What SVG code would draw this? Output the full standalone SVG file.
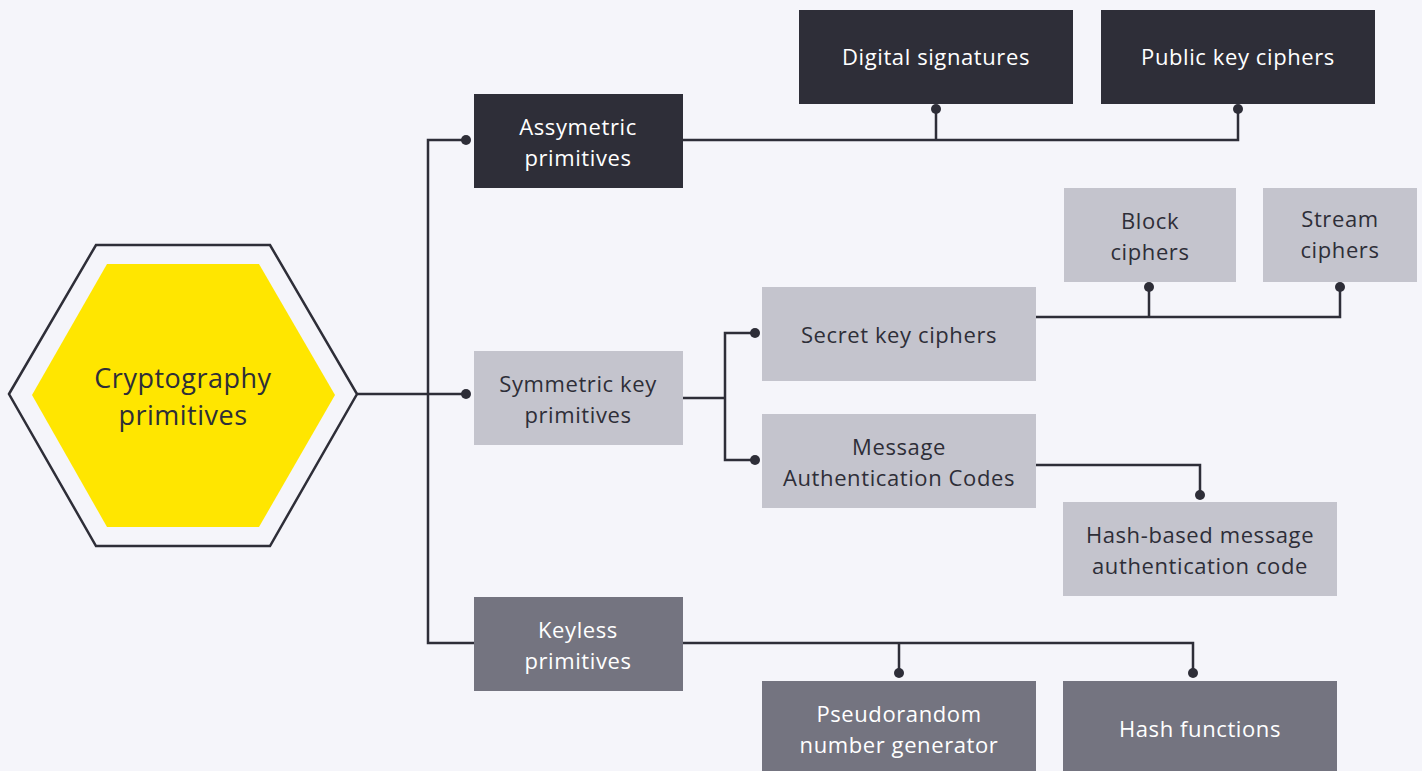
<svg xmlns="http://www.w3.org/2000/svg" width="1422" height="771" viewBox="0 0 1422 771">
<style>
.dark{fill:#2e2e38}
.light{fill:#c4c4cd}
.mid{fill:#747480}
.t{font-family:"Open Sans","Liberation Sans",sans-serif;font-size:22px;letter-spacing:0.6px;text-anchor:middle}
.big{font-size:27px;letter-spacing:0.5px}
.tw{fill:#ffffff}
.td{fill:#2e2e38}
.c{fill:none;stroke:#2e2e38;stroke-width:2.5}
.dot{fill:#2e2e38}
</style>
<rect width="1422" height="771" fill="#f5f5fa"/>
<g id="connectors">
<path class="c" d="M357 394 H466"/>
<path class="c" d="M466 140 H428 V643 H474"/>
<path class="c" d="M683 140 H1238 V109 M936 140 V109"/>
<path class="c" d="M683 398 H725 M755 333 H725 V460 H755"/>
<path class="c" d="M1036 317 H1340 V287 M1149 317 V287"/>
<path class="c" d="M1036 465 H1200 V495"/>
<path class="c" d="M683 643 H1193 V673 M899 643 V673"/>
<circle class="dot" cx="466" cy="140" r="5"/>
<circle class="dot" cx="466" cy="394" r="5"/>
<circle class="dot" cx="936" cy="109" r="5"/>
<circle class="dot" cx="1238" cy="109" r="5"/>
<circle class="dot" cx="755" cy="333" r="5"/>
<circle class="dot" cx="755" cy="460" r="5"/>
<circle class="dot" cx="1149" cy="287" r="5"/>
<circle class="dot" cx="1340" cy="287" r="5"/>
<circle class="dot" cx="1200" cy="495" r="5"/>
<circle class="dot" cx="899" cy="673" r="5"/>
<circle class="dot" cx="1193" cy="673" r="5"/>
</g>
<g id="root">
<polygon points="9,394 96,245 270,245 357,394 270,546 96,546" fill="none" stroke="#2e2e38" stroke-width="2.5"/>
<polygon points="32,395 107,264 259,264 335,395 259,527 107,527" fill="#ffe600"/>
<text class="t td big" x="183" y="388">Cryptography</text>
<text class="t td big" x="183" y="425">primitives</text>
</g>
<g id="asym">
<rect class="dark" x="474" y="94" width="209" height="94"/>
<text class="t tw" x="578" y="135">Assymetric</text>
<text class="t tw" x="578" y="166">primitives</text>
</g>
<g id="sym">
<rect class="light" x="474" y="351" width="209" height="94"/>
<text class="t td" x="578" y="392">Symmetric key</text>
<text class="t td" x="578" y="423">primitives</text>
</g>
<g id="keyless">
<rect class="mid" x="474" y="597" width="209" height="94"/>
<text class="t tw" x="578" y="638">Keyless</text>
<text class="t tw" x="578" y="669">primitives</text>
</g>
<g id="digsig">
<rect class="dark" x="799" y="10" width="274" height="94"/>
<text class="t tw" x="936" y="65">Digital signatures</text>
</g>
<g id="pubkey">
<rect class="dark" x="1101" y="10" width="274" height="94"/>
<text class="t tw" x="1238" y="65">Public key ciphers</text>
</g>
<g id="block">
<rect class="light" x="1064" y="188" width="172" height="94"/>
<text class="t td" x="1150" y="229">Block</text>
<text class="t td" x="1150" y="260">ciphers</text>
</g>
<g id="stream">
<rect class="light" x="1263" y="188" width="154" height="94"/>
<text class="t td" x="1340" y="227">Stream</text>
<text class="t td" x="1340" y="258">ciphers</text>
</g>
<g id="secret">
<rect class="light" x="762" y="287" width="274" height="94"/>
<text class="t td" x="899" y="343">Secret key ciphers</text>
</g>
<g id="mac">
<rect class="light" x="762" y="414" width="274" height="94"/>
<text class="t td" x="899" y="455">Message</text>
<text class="t td" x="899" y="486">Authentication Codes</text>
</g>
<g id="hmac">
<rect class="light" x="1063" y="502" width="274" height="94"/>
<text class="t td" x="1200" y="543">Hash-based message</text>
<text class="t td" x="1200" y="574">authentication code</text>
</g>
<g id="prng">
<rect class="mid" x="762" y="681" width="274" height="90"/>
<text class="t tw" x="899" y="722">Pseudorandom</text>
<text class="t tw" x="899" y="753">number generator</text>
</g>
<g id="hashfn">
<rect class="mid" x="1063" y="681" width="274" height="90"/>
<text class="t tw" x="1200" y="737">Hash functions</text>
</g>
</svg>
